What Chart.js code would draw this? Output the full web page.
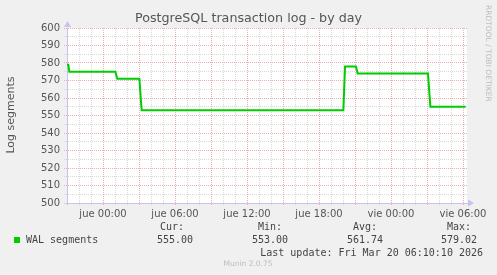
<!DOCTYPE html>
<html>
<head>
<meta charset="utf-8">
<title>PostgreSQL transaction log - by day</title>
<script src="https://cdn.jsdelivr.net/npm/chart.js@4.4.1/dist/chart.umd.min.js"></script>
<style>
    html, body { margin: 0; padding: 0; background: #f0f0f0; }
    canvas { display: block; }
</style>
</head>
<body>
<canvas id="grafico" width="497" height="275"></canvas>
<script>
// Dados: horas relativas a jue 00:00
const horas = [-3.0, -2.89, -2.81, 1.03, 1.19, 3.03, 3.22, 20.03, 20.17, 21.08, 21.22, 27.08, 27.28, 30.22];
const segmentos = [579, 579, 575, 575, 571, 571, 553, 553, 578, 578, 574, 574, 555, 555];
const diasSemana = ['mié', 'jue', 'vie'];
const serieNome = 'WAL segments';
const cabecalhos = ['Cur:', 'Min:', 'Avg:', 'Max:'];
const estatisticas = ['555.00', '553.00', '561.74', '579.02'];
const ultimaAtualizacao = 'Last update: Fri Mar 20 06:10:10 2026';

const corMaior = '#eab0b0';
const corMenor = '#d8d8d8';
const corEixo = '#c4c4ee';
const corTexto = '#555555';

function rotuloHora(v) {
    if (v % 6 !== 0) return '';
    const dia = diasSemana[Math.floor(v / 24) + 1];
    const h = ((v % 24) + 24) % 24;
    return dia + ' ' + String(h).padStart(2, '0') + ':00';
}

// Fundo, textos, legenda e setas
const desenhoMunin = {
    id: 'desenhoMunin',
    beforeDraw(chart) {
        const { ctx, chartArea: a } = chart;
        ctx.save();
        ctx.fillStyle = '#f0f0f0';
        ctx.fillRect(0, 0, chart.width, chart.height);
        ctx.fillStyle = '#ffffff';
        ctx.fillRect(a.left, a.top, a.right - a.left, a.bottom - a.top);
        ctx.restore();
    },
    afterDraw(chart) {
        const { ctx, chartArea: a } = chart;
        ctx.save();
        ctx.fillStyle = corTexto;
        ctx.textBaseline = 'middle';
        ctx.textAlign = 'center';
        ctx.font = '12.7px "DejaVu Sans"';
        ctx.fillText('PostgreSQL transaction log - by day', 248.5, 19);

        ctx.save();
        ctx.translate(11, 115);
        ctx.rotate(-Math.PI / 2);
        ctx.font = '11px "DejaVu Sans"';
        ctx.fillText('Log segments', 0, 0);
        ctx.restore();

        ctx.save();
        ctx.translate(488, 5);
        ctx.rotate(Math.PI / 2);
        ctx.textAlign = 'left';
        ctx.font = '7.5px "DejaVu Sans"';
        ctx.fillStyle = '#bdbdbd';
        ctx.fillText('RRDTOOL / TOBI OETIKER', 0, 0);
        ctx.restore();

        // setas dos eixos
        ctx.fillStyle = corEixo;
        ctx.beginPath();
        ctx.moveTo(a.left - 3, a.top - 1);
        ctx.lineTo(a.left + 4, a.top - 1);
        ctx.lineTo(a.left + 0.5, a.top - 7);
        ctx.fill();
        ctx.beginPath();
        ctx.moveTo(a.right + 1, a.bottom - 3.5);
        ctx.lineTo(a.right + 1, a.bottom + 3.5);
        ctx.lineTo(a.right + 7, a.bottom);
        ctx.fill();

        // legenda
        ctx.fillStyle = '#00cc00';
        ctx.fillRect(14, 237, 6, 6);
        ctx.fillStyle = '#444444';
        ctx.font = '10px "DejaVu Sans Mono"';
        ctx.textAlign = 'left';
        ctx.fillText(serieNome, 26, 240);
        const xCab = [160, 258, 353, 447];
        const xVal = [157, 252, 347, 441];
        cabecalhos.forEach((t, i) => ctx.fillText(t, xCab[i], 227));
        estatisticas.forEach((t, i) => ctx.fillText(t, xVal[i], 240));
        ctx.textAlign = 'right';
        ctx.fillText(ultimaAtualizacao, 483, 253);

        ctx.textAlign = 'center';
        ctx.fillStyle = '#bdbdbd';
        ctx.font = '7.5px "DejaVu Sans"';
        ctx.fillText('Munin 2.0.75', 248, 264);
        ctx.restore();
    }
};

new Chart(document.getElementById('grafico'), {
    type: 'line',
    data: {
        datasets: [{
            label: serieNome,
            data: horas.map((h, i) => ({ x: h, y: segmentos[i] })),
            borderColor: '#00cc00',
            borderWidth: 2,
            pointRadius: 0,
            tension: 0,
            fill: false
        }]
    },
    options: {
        responsive: false,
        animation: false,
        devicePixelRatio: 1,
        layout: { padding: { left: 0, top: 28, right: 30, bottom: 0 } },
        plugins: { legend: { display: false }, tooltip: { enabled: false } },
        scales: {
            x: {
                type: 'linear',
                min: -3,
                max: 30.333,
                afterFit: s => { s.height = 72; },
                ticks: {
                    stepSize: 1,
                    includeBounds: false,
                    autoSkip: false,
                    maxRotation: 0,
                    padding: 2,
                    color: corTexto,
                    font: { family: 'DejaVu Sans', size: 10 },
                    callback: v => rotuloHora(v)
                },
                grid: {
                    color: c => (c.tick && c.tick.value % 3 === 0) ? corMaior : corMenor,
                    tickColor: c => (c.tick && c.tick.value % 3 === 0) ? corMaior : corMenor,
                    tickLength: 3,
                    tickBorderDash: [1, 1]
                },
                border: { color: corEixo, dash: [1, 1] }
            },
            y: {
                min: 500,
                max: 600,
                afterFit: s => { s.width = 67; },
                ticks: {
                    stepSize: 5,
                    autoSkip: false,
                    padding: 4,
                    color: corTexto,
                    font: { family: 'DejaVu Sans', size: 10 },
                    callback: v => (v % 10 === 0 ? String(v) : '')
                },
                grid: {
                    color: c => (c.tick && c.tick.value % 10 === 0) ? corMaior : corMenor,
                    tickColor: c => (c.tick && c.tick.value % 10 === 0) ? corMaior : corMenor,
                    tickLength: 3,
                    tickBorderDash: [1, 1]
                },
                border: { color: corEixo, dash: [1, 1] }
            }
        }
    },
    plugins: [desenhoMunin]
});
</script>
</body>
</html>
